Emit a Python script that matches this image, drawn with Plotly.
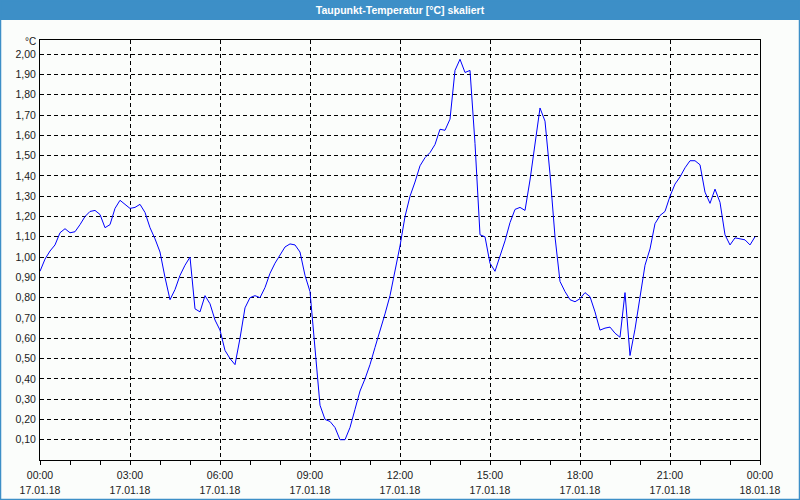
import pandas as pd
import plotly.graph_objects as go

# Dew point values, one every 10 minutes from 17.01.18 00:00
values = [
    0.93, 0.99, 1.03, 1.06, 1.12, 1.14, 1.12, 1.125, 1.16, 1.20,
    1.225, 1.23, 1.21, 1.145, 1.16, 1.24, 1.28, 1.26, 1.24, 1.245,
    1.26, 1.22, 1.145, 1.09, 1.025, 0.90, 0.79, 0.84, 0.91, 0.96,
    1.00, 0.745, 0.73, 0.81, 0.77, 0.69, 0.64, 0.54, 0.50, 0.47,
    0.60, 0.75, 0.80, 0.81, 0.80, 0.85, 0.92, 0.97, 1.01, 1.05,
    1.065, 1.06, 1.025, 0.91, 0.83, 0.56, 0.27, 0.20, 0.19, 0.16,
    0.10, 0.10, 0.16, 0.25, 0.34, 0.40, 0.47, 0.555, 0.635, 0.72,
    0.81, 0.925, 1.055, 1.20, 1.30, 1.37, 1.45, 1.49, 1.515, 1.555,
    1.63, 1.625, 1.68, 1.92, 1.975, 1.91, 1.92, 1.56, 1.11, 1.10,
    0.97, 0.93, 1.00, 1.08, 1.17, 1.235, 1.245, 1.23, 1.38, 1.57,
    1.735, 1.67, 1.41, 1.10, 0.88, 0.83, 0.79, 0.78, 0.795, 0.825,
    0.805, 0.73, 0.64, 0.65, 0.655, 0.625, 0.605, 0.825, 0.515, 0.645,
    0.81, 0.96, 1.04, 1.165, 1.205, 1.225, 1.30, 1.36, 1.395, 1.44,
    1.475, 1.475, 1.455, 1.32, 1.265, 1.335, 1.27, 1.11, 1.06, 1.095,
    1.09, 1.085, 1.06, 1.10,
]
start_time = "2018-01-17 00:00"
end_time = "2018-01-18 00:00"
times = pd.date_range(start_time, periods=len(values), freq="10min")

y_ticks = [0.1, 0.2, 0.3, 0.4, 0.5, 0.6, 0.7, 0.8, 0.9, 1.0,
           1.1, 1.2, 1.3, 1.4, 1.5, 1.6, 1.7, 1.8, 1.9, 2.0]
title_text = "Taupunkt-Temperatur [°C] skaliert"
unit_text = "°C"

BG = "#fbfdfb"
BLUE = "#3d8fc7"
W, H = 800, 500
ML, MR, MT, MB = 40, 40, 40, 40
PW, PH = W - ML - MR, H - MT - MB

fig = go.Figure()
fig.add_trace(go.Scatter(x=times, y=values, mode="lines",
                         line=dict(color="#0000ff", width=1),
                         hoverinfo="skip", showlegend=False))
# helper traces so the label axes (time row, date row) are drawn
fig.add_trace(go.Scatter(x=[times[0]], y=[None], xaxis="x2", mode="lines",
                         hoverinfo="skip", showlegend=False))
fig.add_trace(go.Scatter(x=[times[0]], y=[None], xaxis="x3", mode="lines",
                         hoverinfo="skip", showlegend=False))

FAM = "Liberation Sans, Arial, sans-serif"
font = dict(family=FAM, size=10.5, color="#1a1a1a")

label_axis = dict(
    type="date", range=[start_time, end_time], overlaying="x",
    side="bottom", anchor="y",
    tickmode="linear", tick0=start_time, dtick=3 * 3600000,
    ticks="", showgrid=False, showline=False,
    zeroline=False, tickfont=font, automargin=False,
)

fig.update_layout(
    width=W, height=H,
    margin=dict(l=ML, r=MR, t=MT, b=MB, autoexpand=False),
    paper_bgcolor=BG, plot_bgcolor=BG,
    separators=",.",
    font=font,
    title=dict(text="<b>" + title_text + "</b>", x=0.5, xanchor="center",
               y=1 - 10 / H, yanchor="middle", yref="container",
               font=dict(family=FAM, size=10.5, color="white")),
    xaxis=dict(
        type="date", range=[start_time, end_time],
        tickmode="linear", tick0=start_time, dtick=3 * 3600000,
        showticklabels=False,
        ticks="outside", ticklen=4, tickcolor="black",
        showgrid=True, gridcolor="black", gridwidth=1, griddash="4px,3px",
        minor=dict(dtick=3600000, ticks="outside", ticklen=4, tickcolor="black", showgrid=False),
        showline=True, linecolor="black", linewidth=1, mirror=True,
        zeroline=False, automargin=False,
    ),
    xaxis2=dict(label_axis, tickformat="%H:%M", ticklabelstandoff=7),
    xaxis3=dict(label_axis, tickformat="%d.%m.%y", ticklabelstandoff=22),
    yaxis=dict(
        range=[0, 2.07], tickmode="array", tickvals=y_ticks, tickformat=".2f",
        ticks="", showgrid=True, gridcolor="black", gridwidth=1, griddash="4px,3px",
        showline=True, linecolor="black", linewidth=1, mirror=True,
        zeroline=False, tickfont=font, ticklabelstandoff=1, automargin=False,
    ),
    shapes=[
        dict(type="rect", xref="paper", yref="paper",
             x0=-ML / PW, x1=1 + MR / PW, y0=1 + (MT - 20) / PH, y1=1 + MT / PH,
             fillcolor=BLUE, line=dict(width=0), layer="below"),
        dict(type="rect", xref="paper", yref="paper",
             x0=-(ML - 0.5) / PW, x1=1 + (MR - 0.5) / PW,
             y0=-(MB - 0.5) / PH, y1=1 + (MT - 0.5) / PH,
             fillcolor="rgba(0,0,0,0)", line=dict(color=BLUE, width=1.5), layer="above"),
    ],
    annotations=[
        dict(text=unit_text, xref="paper", yref="paper", x=0, y=1,
             xanchor="right", yanchor="middle", xshift=-2, yshift=-1,
             showarrow=False, font=dict(family=FAM, size=10, color="#1a1a1a")),
    ],
)

fig.write_html("out.html")
